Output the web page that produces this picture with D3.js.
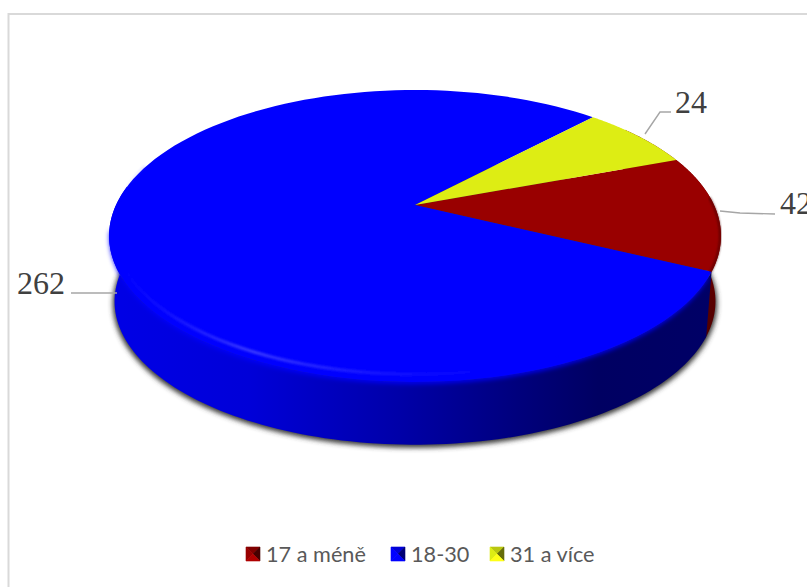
<!DOCTYPE html>
<html><head><meta charset="utf-8">
<script src="https://cdnjs.cloudflare.com/ajax/libs/d3/7.8.5/d3.min.js"></script>
<style>html,body{margin:0;padding:0;background:#fff;overflow:hidden}</style>
</head><body><svg id="c" width="807" height="587"></svg>
<script>
const categories = ["17 a méně", "18-30", "31 a více"];
const values = [42, 262, 24];
const topColors = ["#990000", "#0000ff", "#dded14"];

const W = 807, H = 587;
const svg = d3.select("#c").attr("viewBox", [0, 0, W, H]);
const defs = svg.append("defs");

// Perspective disc: unit circle -> screen
const P = 0.212, A = 299, B = 139.4;
const project = (t, c) => {
  const X = Math.sin(t), Y = -Math.cos(t), w = 1 - P * Y;
  return [c.x + c.k * A * X / w, c.y + c.k * B * Y / w];
};
const topC = {x: 415, y: 205, k: 1};
const botC = {x: 415, y: 271, k: 0.982};

const start = 69.7 * Math.PI / 180;
const pie = d3.pie().sort(null).value(d => d).startAngle(start).endAngle(start + 2 * Math.PI);
const arcs = pie(values);
const line = d3.line();
const samples = (a0, a1, c) => d3.range(0, 121).map(i => project(a0 + (a1 - a0) * i / 120, c));

const blur = (id, sd) => defs.append("filter").attr("id", id)
  .attr("x", "-10%").attr("y", "-20%").attr("width", "120%").attr("height", "140%")
  .append("feGaussianBlur").attr("stdDeviation", sd);
blur("sh", 2.4); blur("edge", 2.6); blur("sw", 1.1);

const grad = defs.append("linearGradient").attr("id", "sideBlue")
  .attr("gradientUnits", "userSpaceOnUse").attr("x1", 112).attr("x2", 712).attr("y1", 0).attr("y2", 0);
[[0, "#0000e6"], [0.23, "#0000d8"], [0.48, "#0000a8"], [0.68, "#00007c"], [0.81, "#000062"], [1, "#000066"]]
  .forEach(([o, c]) => grad.append("stop").attr("offset", o).attr("stop-color", c));
const gradR = defs.append("linearGradient").attr("id", "sideRed")
  .attr("gradientUnits", "userSpaceOnUse").attr("x1", 0).attr("x2", 0).attr("y1", 240).attr("y2", 335);
[[0, "#6a0000"], [1, "#500000"]].forEach(([o, c]) => gradR.append("stop").attr("offset", o).attr("stop-color", c));
const rimFade = defs.append("linearGradient").attr("id", "rim")
  .attr("gradientUnits", "userSpaceOnUse").attr("x1", 120).attr("x2", 560).attr("y1", 0).attr("y2", 0);
[[0, "#3a3aff", 0], [0.3, "#4a4aff", 0.8], [0.6, "#3030ff", 0.45], [1, "#0000ff", 0]]
  .forEach(([o, c, a]) => rimFade.append("stop").attr("offset", o).attr("stop-color", c).attr("stop-opacity", a));

// frame
svg.append("path").attr("d", d3.line()([[8.5, H + 2], [8.5, 14], [W + 2, 14]]))
  .attr("fill", "none").attr("stroke", "#d9d9d9").attr("stroke-width", 2);

// drop shadow
svg.append("path")
  .attr("d", line(samples(0, 2 * Math.PI, {x: botC.x, y: botC.y + 2, k: botC.k * 1.006})) + "Z")
  .attr("fill", "#3a3a3a").attr("filter", "url(#sh)");

// side walls
const wall = (a0, a1) => {
  const t = samples(a0, a1, topC), b = samples(a0, a1, botC).reverse();
  return line(t.concat(b)) + "Z";
};
const redArc = arcs[0], blueArc = arcs[1];
svg.append("path").attr("d", wall(redArc.startAngle - 0.3, redArc.endAngle + 0.02)).attr("fill", "url(#sideRed)");
svg.append("path").attr("d", wall(blueArc.startAngle, blueArc.startAngle + Math.PI * 0.9)).attr("fill", "url(#sideBlue)");

// soft transition from top face to wall along the front edge
svg.append("path")
  .attr("d", line(samples(blueArc.startAngle + 0.03, blueArc.startAngle + Math.PI * 0.8, {x: topC.x, y: topC.y + 1, k: 0.99})))
  .attr("fill", "none").attr("stroke", topColors[1]).attr("stroke-width", 5).attr("filter", "url(#edge)");

// top faces
const centre = project(0, {x: topC.x, y: topC.y, k: 0});
svg.append("g").selectAll("path").data(arcs).join("path")
  .attr("d", d => line([centre].concat(samples(d.startAngle, d.endAngle, topC))) + "Z")
  .attr("fill", (d, i) => topColors[i]);

// darker soft rim on the red slice outer edge
svg.append("path")
  .attr("d", line(samples(redArc.startAngle + 0.3, redArc.endAngle, {x: topC.x, y: topC.y, k: 0.997})))
  .attr("fill", "none").attr("stroke", "#4a0000").attr("stroke-width", 2).attr("stroke-opacity", 0.75).attr("filter", "url(#sw)");

// rounded rim highlight on the front-left edge
svg.append("path")
  .attr("d", line(samples(blueArc.startAngle + 0.6, blueArc.startAngle + 2.95, {x: topC.x, y: 200, k: 0.985})))
  .attr("fill", "none").attr("stroke", "url(#rim)").attr("stroke-width", 3).attr("filter", "url(#sw)");

// leaders & labels
const labelLayout = [
  {x: 780, y: 214, pts: [[720, 211], [740, 213], [775, 214]]},
  {x: 17, y: 294, pts: [[117, 293], [71, 293]]},
  {x: 675, y: 113, pts: [[645, 134], [660, 112], [671, 112]]}
];
const lab = svg.append("g");
lab.selectAll("path").data(labelLayout).join("path").attr("d", d => line(d.pts))
  .attr("fill", "none").attr("stroke", "#a6a6a6").attr("stroke-width", 1.4);
lab.selectAll("text").data(values).join("text")
  .attr("x", (d, i) => labelLayout[i].x).attr("y", (d, i) => labelLayout[i].y)
  .attr("font-family", "Liberation Serif").attr("font-size", 32).attr("fill", "#404040").text(d => d);

// legend
const legendX = d3.scaleOrdinal().domain(categories).range([246, 391, 490]);
const legend = svg.append("g").selectAll("g").data(categories).join("g")
  .attr("transform", d => `translate(${legendX(d)},547)`);
const s = 14;
legend.each(function (d, i) {
  const g = d3.select(this).append("g"), c = d3.color(topColors[i]);
  const tris = [
    [[0, 0], [s, 0], [s / 2, s / 2], c.darker(0.5)],
    [[0, 0], [0, s], [s / 2, s / 2], c],
    [[s, 0], [s, s], [s / 2, s / 2], c.darker(2.2)],
    [[0, s], [s, s], [s / 2, s / 2], c.brighter(0.4)]
  ];
  g.selectAll("path").data(tris).join("path")
    .attr("d", t => line(t.slice(0, 3)) + "Z").attr("fill", t => t[3]).attr("stroke", t => t[3]).attr("stroke-width", 0.6);
});
legend.append("text").attr("x", 20).attr("y", 15)
  .attr("font-family", "Lato").attr("font-size", 21.7).attr("fill", "#595959").text(d => d);
</script></body></html>
